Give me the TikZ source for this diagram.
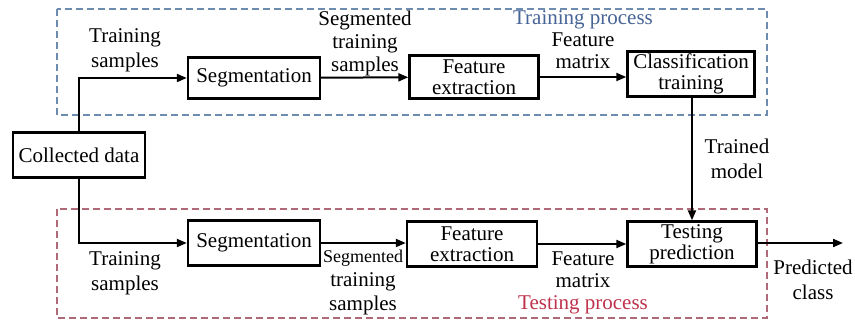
\documentclass[tikz,border=0pt]{standalone}
\usepackage{fontspec}
\setmainfont{Liberation Serif}
\usepackage{tikz}
\usetikzlibrary{arrows.meta, positioning}
\definecolor{trainblue}{RGB}{70,100,150}
\definecolor{testred}{RGB}{190,50,75}
\definecolor{trainframe}{RGB}{110,140,175}
\definecolor{testframe}{RGB}{175,105,120}

\begin{document}
\begin{tikzpicture}[x=1pt, y=-1pt,
    font=\fontsize{21}{25}\selectfont,
    block/.style={draw, line width=2.4pt, align=center, inner sep=0pt},
    lbl/.style={align=center, inner sep=0pt},
    frame/.style={dash pattern=on 7pt off 4pt, line width=1.1pt},
    flow/.style={line width=2pt, -{Triangle[length=10pt,width=8pt]}}]
    \useasboundingbox (0,0) rectangle (855,320);

    % khung quá trình huấn luyện và kiểm thử (nét đứt)
    \draw[trainframe, frame] (57,9) rectangle (767,115);
    \draw[testframe, frame] (57,209) rectangle (767,318);
    \node[lbl, text=trainblue] (trainlbl) at (583,20) {Training process};
    \node[lbl, text=testred] (testlbl) at (583,305) {Testing process};

    % dữ liệu thu thập
    \node[block, minimum width=132pt, minimum height=45pt] (data) at (79,155) {Collected data};

    % hàng trên: huấn luyện
    \node[block, minimum width=132pt, minimum height=41pt] (seg1) at (254,78) {Segmentation};
    \node[block, minimum width=129pt, minimum height=43pt] (feat1) at (474,77) {Feature\\[-4pt]extraction};
    \node[block, minimum width=127pt, minimum height=45pt] (cls) at (691,74) {Classification\\[-4pt]training};

    % hàng dưới: kiểm thử
    \node[block, minimum width=132pt, minimum height=45pt] (seg2) at (254,243) {Segmentation};
    \node[block, minimum width=130pt, minimum height=45pt] (feat2) at (472,244) {Feature\\[-4pt]extraction};
    \node[block, minimum width=129pt, minimum height=45pt] (pred) at (692,244) {Testing\\[-4pt]prediction};
    \coordinate (out) at (843,243);

    % mũi tên
    \draw[flow] (data.north) |- (seg1.west);
    \draw[flow] (data.south) |- (seg2.west);
    \draw[flow] (seg1) -- (feat1);
    \draw[flow] (feat1) -- (feat1 -| cls.west);
    \draw[flow] (cls.south -| pred.north) -- (pred.north);
    \draw[flow] (seg2) -- (seg2 -| feat2.west);
    \draw[flow] (feat2) -- (pred);
    \draw[flow] (pred.east |- out) -- (out);

    % nhãn trên mũi tên
    \node[lbl] (ts1) at (125,50) {Training\\samples};
    \node[lbl] (sts1) at (365,43) {Segmented\\[-2pt]training\\[-2pt]samples};
    \node[lbl] (fm1) at (583,51) {Feature\\[-3pt]matrix};
    \node[lbl] (tm) at (737,159) {Trained\\model};
    \node[lbl] (ts2) at (125,273) {Training\\samples};
    \node[lbl] (sts2) at (363,282) {\fontsize{18}{24}\selectfont Segmented\\[-1pt]training\\[-1pt]samples};
    \node[lbl] (fm2) at (583,270) {Feature\\[-3pt]matrix};
    \node[lbl] (pc) at (813,280) {Predicted\\class};
\end{tikzpicture}
\end{document}
